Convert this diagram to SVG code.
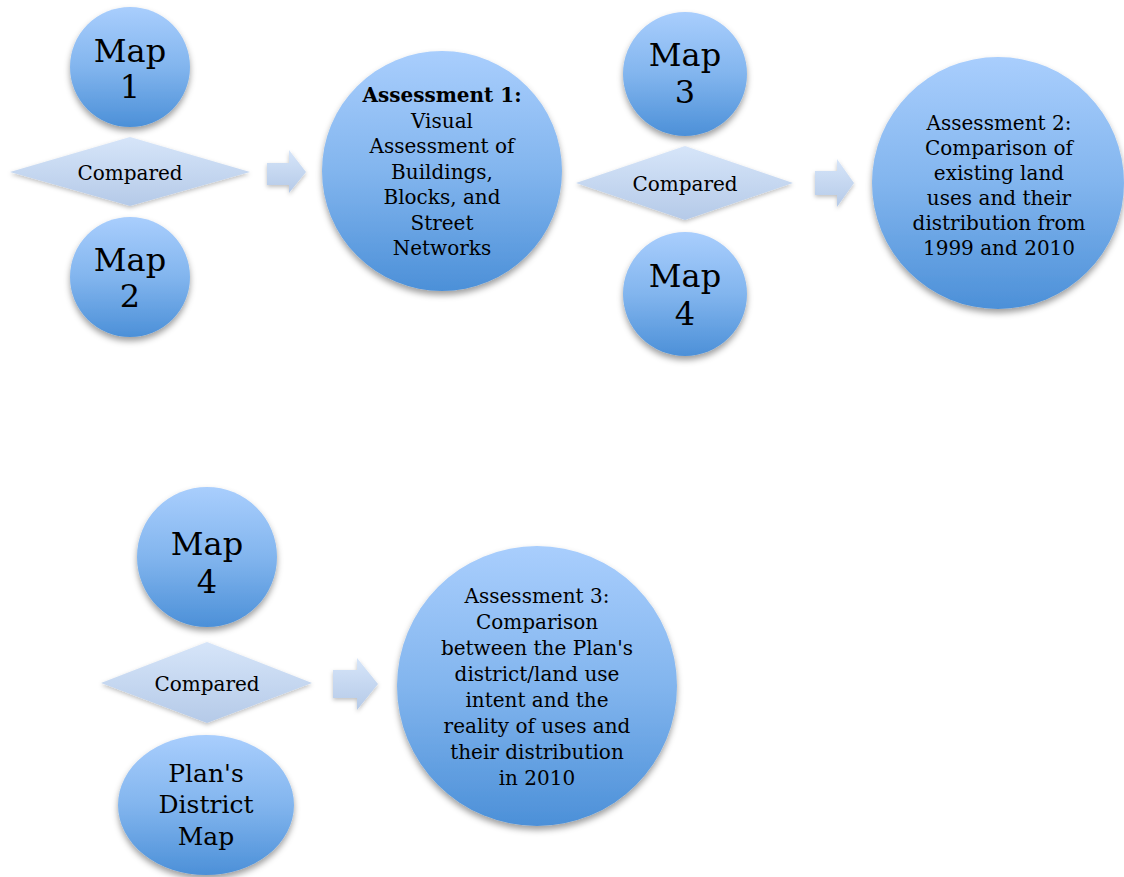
<svg xmlns="http://www.w3.org/2000/svg" width="1124" height="877" viewBox="0 0 1124 877">
<defs>
<linearGradient id="gc" x1="0" y1="0" x2="0" y2="1">
<stop offset="0" stop-color="#a9cefd"/>
<stop offset="0.5" stop-color="#82b5ee"/>
<stop offset="1" stop-color="#4c90d8"/>
</linearGradient>
<linearGradient id="gd" x1="0" y1="0" x2="0" y2="1">
<stop offset="0" stop-color="#d6e5f9"/>
<stop offset="1" stop-color="#b5cae8"/>
</linearGradient>
<filter id="sh" x="-20%" y="-20%" width="140%" height="150%">
<feDropShadow dx="0" dy="4" stdDeviation="3" flood-color="#000" flood-opacity="0.38"/>
</filter>
<filter id="sh2" x="-20%" y="-30%" width="140%" height="170%">
<feDropShadow dx="0" dy="2" stdDeviation="2" flood-color="#000" flood-opacity="0.25"/>
</filter>
</defs>
<style>
.c{fill:url(#gc);filter:url(#sh)}
.d{fill:url(#gd);filter:url(#sh2)}
.a{fill:url(#gd);filter:url(#sh2)}
text{font-family:"DejaVu Serif","Liberation Serif",serif;fill:#000;text-anchor:middle}
.m{font-size:32px}
.t{font-size:20px}
.p{font-size:25px}
.b{font-weight:bold}
</style>
<g id="connectors">
<path class="a" d="M267,163 H289 V150 L306,172 L289,193 V185 H267 Z"/>
<path class="a" d="M815,171 H837 V159 L854,183 L837,207 V195 H815 Z"/>
<path class="a" d="M333,670 H357 V658 L378,684 L357,710 V698 H333 Z"/>
</g>
<g id="map1">
<circle class="c" cx="130" cy="67" r="60"/>
<text class="m" x="130" y="62">Map</text>
<text class="m" x="130" y="98">1</text>
</g>
<g id="compared1">
<polygon class="d" points="10,172 130,137 250,172 130,206"/>
<text class="t" x="130" y="180">Compared</text>
</g>
<g id="map2">
<circle class="c" cx="130" cy="277" r="60"/>
<text class="m" x="130" y="271">Map</text>
<text class="m" x="130" y="307">2</text>
</g>
<g id="assessment1">
<circle class="c" cx="442" cy="171" r="120"/>
<text class="t b" x="442" y="102">Assessment 1:</text>
<text class="t" x="442" y="128">Visual</text>
<text class="t" x="442" y="153">Assessment of</text>
<text class="t" x="442" y="179">Buildings,</text>
<text class="t" x="442" y="204">Blocks, and</text>
<text class="t" x="442" y="230">Street</text>
<text class="t" x="442" y="255">Networks</text>
</g>
<g id="map3">
<circle class="c" cx="685" cy="74" r="62"/>
<text class="m" x="685" y="66">Map</text>
<text class="m" x="685" y="103">3</text>
</g>
<g id="compared2">
<polygon class="d" points="576,183 685,146 793,183 685,220"/>
<text class="t" x="685" y="191">Compared</text>
</g>
<g id="map4a">
<circle class="c" cx="685" cy="294" r="62"/>
<text class="m" x="685" y="287">Map</text>
<text class="m" x="685" y="325">4</text>
</g>
<g id="assessment2">
<circle class="c" cx="998" cy="183" r="126"/>
<text class="t" x="999" y="130">Assessment 2:</text>
<text class="t" x="999" y="155">Comparison of</text>
<text class="t" x="999" y="180">existing land</text>
<text class="t" x="999" y="205">uses and their</text>
<text class="t" x="999" y="230">distribution from</text>
<text class="t" x="999" y="255">1999 and 2010</text>
</g>
<g id="map4b">
<circle class="c" cx="207" cy="557" r="70"/>
<text class="m" x="207" y="555">Map</text>
<text class="m" x="207" y="593">4</text>
</g>
<g id="compared3">
<polygon class="d" points="101,683 207,642 312,683 207,723"/>
<text class="t" x="207" y="691">Compared</text>
</g>
<g id="plansmap">
<ellipse class="c" cx="206" cy="805" rx="88" ry="70"/>
<text class="p" x="206" y="782">Plan's</text>
<text class="p" x="206" y="813">District</text>
<text class="p" x="206" y="845">Map</text>
</g>
<g id="assessment3">
<circle class="c" cx="537" cy="686" r="140"/>
<text class="t" x="537" y="603">Assessment 3:</text>
<text class="t" x="537" y="629">Comparison</text>
<text class="t" x="537" y="655">between the Plan's</text>
<text class="t" x="537" y="681">district/land use</text>
<text class="t" x="537" y="707">intent and the</text>
<text class="t" x="537" y="733">reality of uses and</text>
<text class="t" x="537" y="759">their distribution</text>
<text class="t" x="537" y="785">in 2010</text>
</g>
</svg>
